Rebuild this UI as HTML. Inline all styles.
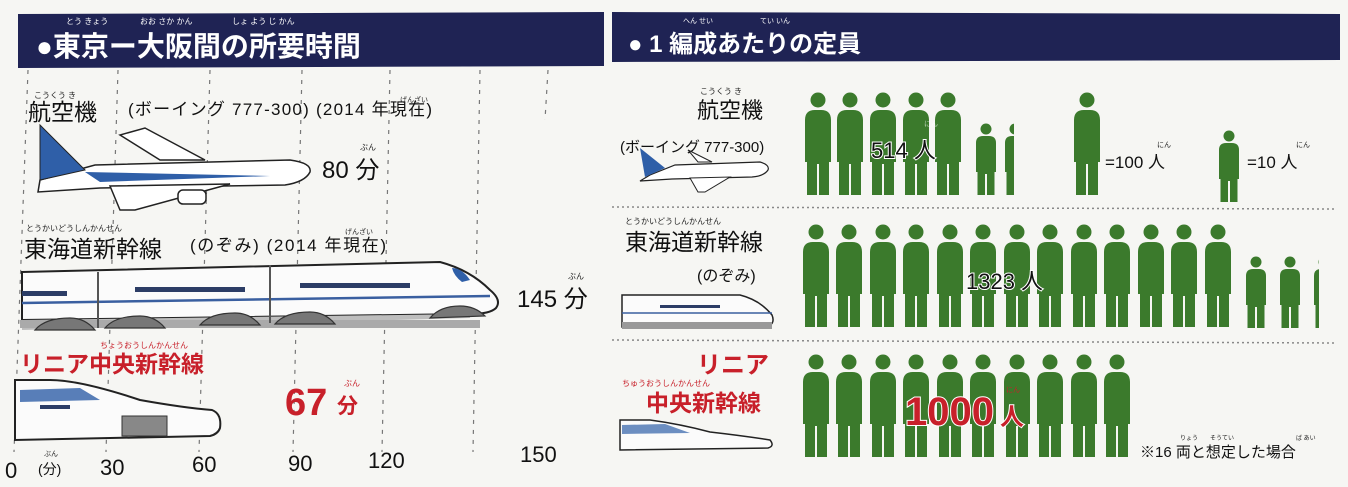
<!DOCTYPE html>
<html><head><meta charset="utf-8"><style>
html,body{margin:0;padding:0;background:#f6f6f3;}
svg{display:block}
text{font-family:"Liberation Sans","Noto Sans CJK JP",sans-serif;}
.o{paint-order:stroke;stroke:#fff;stroke-width:2;}
</style></head><body>
<svg width="1348" height="487" viewBox="0 0 1348 487" xmlns="http://www.w3.org/2000/svg">
<defs>
<g id="bp" fill="#3b7a2c">
  <circle cx="15" cy="8" r="7.5"/>
  <path d="M2,28 Q2,18 12,18 L18,18 Q28,18 28,28 L28,70 L26,70 L26,103 L16,103 L16,72 L14,72 L14,103 L4,103 L4,70 L2,70 Z"/>
</g>
<g id="sp" fill="#3b7a2c">
  <circle cx="11" cy="6" r="5.5"/>
  <path d="M1,20 Q1,13 8,13 L14,13 Q21,13 21,20 L21,49 L19.5,49 L19.5,72 L12,72 L12,51 L10,51 L10,72 L2.5,72 L2.5,49 L1,49 Z"/>
</g>
</defs>

<!-- LEFT HEADER -->
<polygon points="18,14 604,12 604,66 18,68" fill="#1f2354"/>
<text x="66" y="24" font-size="8" fill="#fff">とう きょう</text>
<text x="140" y="24" font-size="8" fill="#fff">おお さか かん</text>
<text x="232" y="24" font-size="8" fill="#fff">しょ よう じ かん</text>
<text x="36" y="56" font-size="28" font-weight="bold" fill="#fff">●東京ー大阪間の所要時間</text>

<!-- dashed grid -->
<g stroke="#777" stroke-width="1.2" stroke-dasharray="4,6">
<line x1="28" y1="70" x2="14" y2="452"/>
<line x1="118" y1="70" x2="106" y2="452"/>
<line x1="210" y1="70" x2="199" y2="452"/>
<line x1="302" y1="70" x2="293" y2="452"/>
<line x1="390" y1="70" x2="382" y2="452"/>
<line x1="480" y1="70" x2="473" y2="452"/>
<line x1="548" y1="70" x2="545" y2="120"/>
</g>

<!-- Airplane row -->
<text x="34" y="98" font-size="8" fill="#222">こうくう き</text>
<text x="28" y="120" font-size="23" fill="#111">航空機</text>
<text x="128" y="115" font-size="17" fill="#111" textLength="304">(ボーイング 777-300) (2014 年現在)</text>
<text x="400" y="102" font-size="7" fill="#222">げんざい</text>
<g>
 <path d="M120,135 L160,160 L205,160 L145,128 Z" fill="#fff" stroke="#222" stroke-width="1.5"/>
 <path d="M40,180 L95,165 L290,160 Q312,163 310,172 Q305,182 285,185 L100,188 L38,192 Z" fill="#fff" stroke="#222" stroke-width="1.5"/>
 <path d="M40,125 L85,170 L40,180 Z" fill="#2f5fa8" stroke="#222" stroke-width="1"/>
 <path d="M85,172 L270,176 L100,182 Z" fill="#2f5fa8"/>
 <path d="M110,186 L230,184 L135,210 L120,210 Z" fill="#fff" stroke="#222" stroke-width="1.5"/>
 <rect x="178" y="190" width="28" height="14" rx="5" fill="#fff" stroke="#222" stroke-width="1.5"/>
</g>
<text x="360" y="150" font-size="8" fill="#222">ぶん</text>
<text x="322" y="178" font-size="24" fill="#111">80 分</text>

<!-- Shinkansen row -->
<text x="26" y="231" font-size="8" fill="#222">とうかいどうしんかんせん</text>
<text x="24" y="257" font-size="23" fill="#111">東海道新幹線</text>
<text x="190" y="251" font-size="17" fill="#111" textLength="196">(のぞみ) (2014 年現在)</text>
<text x="345" y="234" font-size="7" fill="#222">げんざい</text>
<g>
 <path d="M22,272 L440,262 Q470,270 490,290 Q502,300 496,308 Q490,314 470,314 L22,320 Z" fill="#fbfbfb" stroke="#222" stroke-width="2"/>
 <path d="M22,303 L490,296" stroke="#3a5fa0" stroke-width="2.5"/>
 <path d="M22,320 L470,314 L470,318 L22,330 Z" fill="#bdbdbd"/>
 <rect x="20" y="320" width="460" height="8" fill="#aaa"/>
 <path d="M452,268 Q462,268 470,280 L462,282 Q454,276 452,268 Z" fill="#2f5fa8"/>
 <g fill="#2c3d66">
  <rect x="22" y="291" width="45" height="5"/><rect x="135" y="287" width="110" height="5"/><rect x="300" y="283" width="110" height="5"/>
 </g>
 <g stroke="#555" stroke-width="2"><line x1="98" y1="272" x2="98" y2="328"/><line x1="270" y1="265" x2="270" y2="323"/></g>
 <g fill="#777" stroke="#333" stroke-width="1.2">
  <path d="M35,330 Q45,318 70,318 Q85,318 95,330 Z"/><path d="M105,328 Q115,316 140,316 Q155,316 165,328 Z"/>
  <path d="M200,325 Q210,313 235,313 Q250,313 260,325 Z"/><path d="M275,324 Q285,312 310,312 Q325,312 335,324 Z"/>
  <path d="M430,318 Q440,306 460,306 Q475,306 485,316 Z"/>
 </g>
</g>
<text x="568" y="279" font-size="8" fill="#222">ぶん</text>
<text x="517" y="307" font-size="24" fill="#111">145 分</text>

<!-- Linear row -->
<text x="100" y="348" font-size="8" fill="#c8202a">ちょうおうしんかんせん</text>
<text x="20" y="372" font-size="23" font-weight="bold" fill="#c8202a">リニア中央新幹線</text>
<g>
 <path d="M15,380 L50,380 Q80,380 140,400 Q185,408 212,410 Q222,414 220,428 Q218,434 210,436 L15,440 Z" fill="#fbfbfb" stroke="#222" stroke-width="2"/>
 <path d="M20,390 L80,388 L100,400 L20,402 Z" fill="#2f5fa8" opacity="0.8"/>
 <rect x="122" y="416" width="45" height="20" fill="#888" stroke="#333"/>
 <g fill="#2c3d66"><rect x="40" y="405" width="30" height="4"/></g>
</g>
<text x="344" y="386" font-size="8" fill="#c8202a">ぶん</text>
<text x="285" y="415" font-size="38" font-weight="bold" fill="#c8202a">67</text>
<text x="337" y="413" font-size="21" font-weight="bold" fill="#c8202a">分</text>

<!-- axis labels -->
<text x="44" y="456" font-size="7" fill="#222">ぶん</text>
<g font-size="22" fill="#111">
<text x="5" y="478">0</text>
<text x="100" y="475">30</text>
<text x="192" y="472">60</text>
<text x="288" y="471">90</text>
<text x="368" y="468">120</text>
<text x="520" y="462">150</text>
</g>
<text x="38" y="474" font-size="14" fill="#111">(分)</text>

<!-- RIGHT HEADER -->
<polygon points="612,12 1340,14 1340,60 612,62" fill="#1f2354"/>
<text x="683" y="23" font-size="7" fill="#fff">へん せい</text>
<text x="760" y="23" font-size="7" fill="#fff">てい いん</text>
<text x="628" y="52" font-size="24" font-weight="bold" fill="#fff">● 1 編成あたりの定員</text>

<!-- separators -->
<g stroke="#888" stroke-width="1.5" stroke-dasharray="2,3">
<line x1="612" y1="207" x2="1335" y2="209"/>
<line x1="612" y1="340" x2="1335" y2="343"/>
</g>

<!-- row1 labels -->
<text x="700" y="94" font-size="8" fill="#222">こうくう き</text>
<text x="697" y="118" font-size="22" fill="#111">航空機</text>
<text x="620" y="152" font-size="15" fill="#111">(ボーイング 777-300)</text>
<g>
 <path d="M650,175 L675,165 L760,162 Q770,165 768,170 Q764,176 752,177 L672,179 L640,181 Z" fill="#fff" stroke="#222" stroke-width="1.2"/>
 <path d="M640,148 L665,168 L645,177 Z" fill="#2f5fa8"/>
 <path d="M688,150 L712,162 L698,162 Z" fill="#fff" stroke="#222"/>
 <path d="M690,178 L730,177 L705,192 L698,192 Z" fill="#fff" stroke="#222"/>
</g>

<!-- row1 people -->
<use href="#bp" x="803" y="92"/><use href="#bp" x="835" y="92"/><use href="#bp" x="868" y="92"/><use href="#bp" x="901" y="92"/><use href="#bp" x="933" y="92"/>
<use href="#sp" x="975" y="123"/>
<svg x="1004" y="123" width="10" height="72" overflow="hidden"><use href="#sp" x="0" y="0"/></svg>
<text x="924" y="126" font-size="7" fill="#fff" opacity="0.6">にん</text>
<text x="871" y="158" font-size="22" fill="#111" class="o">514 人</text>

<use href="#bp" x="1072" y="92"/>
<text x="1105" y="168" font-size="17" fill="#111">=100 人</text>
<text x="1157" y="147" font-size="7" fill="#222">にん</text>
<use href="#sp" x="1218" y="130"/>
<text x="1247" y="168" font-size="17" fill="#111">=10 人</text>
<text x="1296" y="147" font-size="7" fill="#222">にん</text>

<!-- row2 labels -->
<text x="625" y="224" font-size="8" fill="#222">とうかいどうしんかんせん</text>
<text x="625" y="250" font-size="23" fill="#111">東海道新幹線</text>
<text x="697" y="281" font-size="16" fill="#111">(のぞみ)</text>
<g>
 <path d="M622,295 L740,295 Q760,300 772,315 Q776,325 765,327 L622,327 Z" fill="#fbfbfb" stroke="#222" stroke-width="1.5"/>
 <rect x="660" y="305" width="60" height="3" fill="#2c3d66"/>
 <line x1="622" y1="313" x2="772" y2="313" stroke="#3a5fa0" stroke-width="1.5"/>
 <rect x="622" y="322" width="150" height="7" fill="#999"/>
</g>

<!-- row2 people -->
<g>
<use href="#bp" x="801" y="224"/><use href="#bp" x="834" y="224"/><use href="#bp" x="868" y="224"/><use href="#bp" x="901" y="224"/><use href="#bp" x="935" y="224"/><use href="#bp" x="968" y="224"/><use href="#bp" x="1002" y="224"/><use href="#bp" x="1035" y="224"/><use href="#bp" x="1069" y="224"/><use href="#bp" x="1102" y="224"/><use href="#bp" x="1136" y="224"/><use href="#bp" x="1169" y="224"/><use href="#bp" x="1203" y="224"/>
<use href="#sp" x="1245" y="256"/><use href="#sp" x="1279" y="256"/>
<svg x="1313" y="256" width="6" height="72" overflow="hidden"><use href="#sp" x="0" y="0"/></svg>
</g>
<text x="966" y="289" font-size="22" fill="#111" class="o">1323 人</text>

<!-- row3 labels -->
<text x="697" y="373" font-size="24" font-weight="bold" fill="#c8202a">リニア</text>
<text x="622" y="386" font-size="8" fill="#c8202a">ちゅうおうしんかんせん</text>
<text x="646" y="411" font-size="23" font-weight="bold" fill="#c8202a">中央新幹線</text>
<g>
 <path d="M620,420 L650,420 Q680,424 710,432 Q745,436 770,440 Q775,446 768,448 L620,450 Z" fill="#fbfbfb" stroke="#222" stroke-width="1.5"/>
 <path d="M622,425 L665,424 L690,433 L622,434 Z" fill="#2f5fa8" opacity="0.7"/>
</g>

<!-- row3 people -->
<use href="#bp" x="801" y="354"/><use href="#bp" x="834" y="354"/><use href="#bp" x="868" y="354"/><use href="#bp" x="901" y="354"/><use href="#bp" x="935" y="354"/><use href="#bp" x="968" y="354"/><use href="#bp" x="1002" y="354"/><use href="#bp" x="1035" y="354"/><use href="#bp" x="1069" y="354"/><use href="#bp" x="1102" y="354"/>
<text x="905" y="425" font-size="40" font-weight="bold" fill="#c8202a" class="o">1000</text>
<text x="1000" y="425" font-size="24" font-weight="bold" fill="#c8202a" class="o">人</text>
<text x="1006" y="392" font-size="7" fill="#c8202a">にん</text>

<text x="1140" y="457" font-size="15" fill="#111">※16 両と想定した場合</text>
<text x="1180" y="440" font-size="6" fill="#222">りょう</text>
<text x="1210" y="440" font-size="6" fill="#222">そうてい</text>
<text x="1296" y="440" font-size="6" fill="#222">ば あい</text>
</svg>
</body></html>
